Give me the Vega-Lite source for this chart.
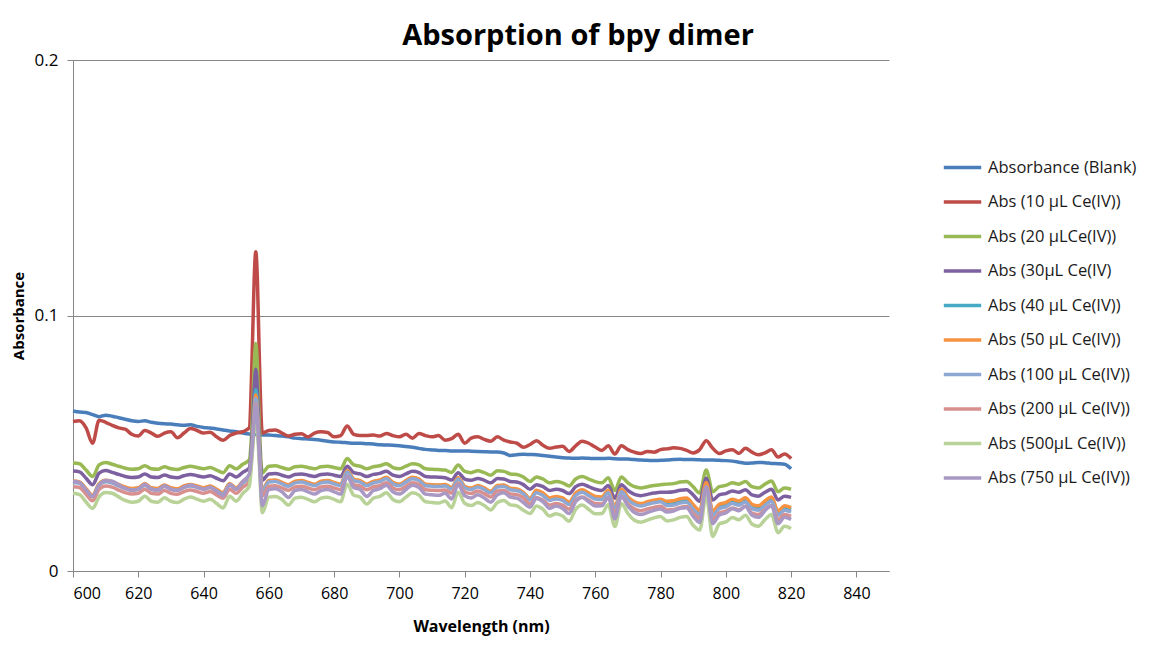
{
"$schema": "https://vega.github.io/schema/vega-lite/v6.json",
"width": 816, "height": 511,
"autosize": {"type": "none"},
"padding": {"left": 73, "top": 60, "right": 268, "bottom": 74},
"background": "white",
"title": {"text": "Absorption of bpy dimer", "font": "Open Sans", "fontSize": 29, "fontWeight": "bold", "color": "#000000", "anchor": "middle", "frame": "group", "dx": 97, "dy": 33, "offset": 10, "baseline": "alphabetic"},
"datasets": {"names": [
{"k": "b", "name": "Absorbance (Blank)"},
{"k": "r", "name": "Abs (10 µL Ce(IV))"},
{"k": "g", "name": "Abs (20 µLCe(IV))"},
{"k": "p", "name": "Abs (30µL Ce(IV)"},
{"k": "t", "name": "Abs (40 µL Ce(IV))"},
{"k": "o", "name": "Abs (50 µL Ce(IV))"},
{"k": "lb", "name": "Abs (100 µL Ce(IV))"},
{"k": "pk", "name": "Abs (200 µL Ce(IV))"},
{"k": "lg", "name": "Abs (500µL Ce(IV))"},
{"k": "lv", "name": "Abs (750 µL Ce(IV))"}
]},
"data": {"values": [
{"w":600,"b":0.0626,"r":0.0585,"g":0.0423,"p":0.0391,"t":0.0350,"o":0.0352,"lb":0.0346,"pk":0.0330,"lv":0.0351,"lg":0.0304},
{"w":602,"b":0.0622,"r":0.0588,"g":0.0420,"p":0.0388,"t":0.0347,"o":0.0349,"lb":0.0343,"pk":0.0327,"lv":0.0346,"lg":0.0299},
{"w":604,"b":0.0620,"r":0.0560,"g":0.0395,"p":0.0363,"t":0.0320,"o":0.0322,"lb":0.0316,"pk":0.0300,"lv":0.0317,"lg":0.0270},
{"w":606,"b":0.0612,"r":0.0500,"g":0.0370,"p":0.0338,"t":0.0295,"o":0.0297,"lb":0.0291,"pk":0.0275,"lv":0.0292,"lg":0.0245},
{"w":608,"b":0.0604,"r":0.0590,"g":0.0415,"p":0.0383,"t":0.0340,"o":0.0342,"lb":0.0336,"pk":0.0320,"lv":0.0337,"lg":0.0290},
{"w":610,"b":0.0610,"r":0.0582,"g":0.0425,"p":0.0393,"t":0.0353,"o":0.0355,"lb":0.0349,"pk":0.0333,"lv":0.0354,"lg":0.0307},
{"w":612,"b":0.0606,"r":0.0570,"g":0.0418,"p":0.0386,"t":0.0348,"o":0.0350,"lb":0.0344,"pk":0.0328,"lv":0.0351,"lg":0.0304},
{"w":614,"b":0.0600,"r":0.0560,"g":0.0410,"p":0.0378,"t":0.0337,"o":0.0339,"lb":0.0333,"pk":0.0317,"lv":0.0337,"lg":0.0290},
{"w":616,"b":0.0594,"r":0.0555,"g":0.0402,"p":0.0370,"t":0.0327,"o":0.0329,"lb":0.0323,"pk":0.0307,"lv":0.0323,"lg":0.0276},
{"w":618,"b":0.0588,"r":0.0535,"g":0.0398,"p":0.0366,"t":0.0321,"o":0.0323,"lb":0.0317,"pk":0.0301,"lv":0.0316,"lg":0.0269},
{"w":620,"b":0.0585,"r":0.0528,"g":0.0400,"p":0.0368,"t":0.0324,"o":0.0326,"lb":0.0320,"pk":0.0304,"lv":0.0320,"lg":0.0273},
{"w":622,"b":0.0588,"r":0.0550,"g":0.0412,"p":0.0380,"t":0.0340,"o":0.0342,"lb":0.0336,"pk":0.0320,"lv":0.0340,"lg":0.0293},
{"w":624,"b":0.0582,"r":0.0540,"g":0.0400,"p":0.0368,"t":0.0324,"o":0.0326,"lb":0.0320,"pk":0.0304,"lv":0.0320,"lg":0.0273},
{"w":626,"b":0.0578,"r":0.0527,"g":0.0398,"p":0.0366,"t":0.0321,"o":0.0323,"lb":0.0317,"pk":0.0301,"lv":0.0316,"lg":0.0269},
{"w":628,"b":0.0576,"r":0.0540,"g":0.0408,"p":0.0376,"t":0.0335,"o":0.0337,"lb":0.0331,"pk":0.0315,"lv":0.0334,"lg":0.0287},
{"w":630,"b":0.0575,"r":0.0545,"g":0.0400,"p":0.0368,"t":0.0324,"o":0.0326,"lb":0.0320,"pk":0.0304,"lv":0.0320,"lg":0.0273},
{"w":632,"b":0.0572,"r":0.0522,"g":0.0397,"p":0.0365,"t":0.0320,"o":0.0322,"lb":0.0316,"pk":0.0300,"lv":0.0315,"lg":0.0268},
{"w":634,"b":0.0570,"r":0.0540,"g":0.0405,"p":0.0373,"t":0.0331,"o":0.0333,"lb":0.0327,"pk":0.0311,"lv":0.0328,"lg":0.0281},
{"w":636,"b":0.0572,"r":0.0558,"g":0.0410,"p":0.0378,"t":0.0337,"o":0.0339,"lb":0.0333,"pk":0.0317,"lv":0.0337,"lg":0.0290},
{"w":638,"b":0.0566,"r":0.0550,"g":0.0405,"p":0.0373,"t":0.0331,"o":0.0333,"lb":0.0327,"pk":0.0311,"lv":0.0328,"lg":0.0281},
{"w":640,"b":0.0562,"r":0.0540,"g":0.0400,"p":0.0368,"t":0.0324,"o":0.0326,"lb":0.0320,"pk":0.0304,"lv":0.0320,"lg":0.0273},
{"w":642,"b":0.0560,"r":0.0543,"g":0.0405,"p":0.0373,"t":0.0331,"o":0.0333,"lb":0.0327,"pk":0.0311,"lv":0.0328,"lg":0.0281},
{"w":644,"b":0.0556,"r":0.0525,"g":0.0395,"p":0.0363,"t":0.0318,"o":0.0320,"lb":0.0314,"pk":0.0298,"lv":0.0311,"lg":0.0264},
{"w":646,"b":0.0552,"r":0.0512,"g":0.0385,"p":0.0353,"t":0.0305,"o":0.0307,"lb":0.0301,"pk":0.0285,"lv":0.0294,"lg":0.0247},
{"w":648,"b":0.0548,"r":0.0530,"g":0.0412,"p":0.0380,"t":0.0340,"o":0.0342,"lb":0.0336,"pk":0.0320,"lv":0.0340,"lg":0.0293},
{"w":650,"b":0.0545,"r":0.0540,"g":0.0400,"p":0.0368,"t":0.0324,"o":0.0326,"lb":0.0320,"pk":0.0304,"lv":0.0320,"lg":0.0273},
{"w":652,"b":0.0540,"r":0.0545,"g":0.0418,"p":0.0386,"t":0.0348,"o":0.0350,"lb":0.0344,"pk":0.0328,"lv":0.0351,"lg":0.0304},
{"w":654,"b":0.0536,"r":0.0560,"g":0.0435,"p":0.0403,"t":0.0370,"o":0.0372,"lb":0.0366,"pk":0.0350,"lv":0.0379,"lg":0.0332},
{"w":655,"b":0.0535,"r":0.0900,"g":0.0620,"p":0.0560,"t":0.0520,"o":0.0510,"lb":0.0505,"pk":0.0495,"lv":0.0500,"lg":0.0470},
{"w":655.5,"b":0.0534,"r":0.1140,"g":0.0800,"p":0.0710,"t":0.0640,"o":0.0625,"lb":0.0610,"pk":0.0595,"lv":0.0590,"lg":0.0555},
{"w":656,"b":0.0534,"r":0.1250,"g":0.0890,"p":0.0790,"t":0.0710,"o":0.0690,"lb":0.0675,"pk":0.0655,"lv":0.0650,"lg":0.0610},
{"w":656.5,"b":0.0533,"r":0.1140,"g":0.0800,"p":0.0710,"t":0.0640,"o":0.0625,"lb":0.0610,"pk":0.0595,"lv":0.0590,"lg":0.0555},
{"w":657,"b":0.0533,"r":0.0880,"g":0.0600,"p":0.0540,"t":0.0500,"o":0.0490,"lb":0.0485,"pk":0.0470,"lv":0.0470,"lg":0.0440},
{"w":658,"b":0.0532,"r":0.0540,"g":0.0385,"p":0.0355,"t":0.0315,"o":0.0317,"lb":0.0311,"pk":0.0295,"lv":0.0255,"lg":0.0228},
{"w":660,"b":0.0532,"r":0.0550,"g":0.0410,"p":0.0380,"t":0.0352,"o":0.0354,"lb":0.0348,"pk":0.0332,"lv":0.0319,"lg":0.0289},
{"w":662,"b":0.0530,"r":0.0552,"g":0.0412,"p":0.0382,"t":0.0354,"o":0.0356,"lb":0.0350,"pk":0.0334,"lv":0.0322,"lg":0.0292},
{"w":664,"b":0.0528,"r":0.0540,"g":0.0405,"p":0.0375,"t":0.0345,"o":0.0347,"lb":0.0341,"pk":0.0325,"lv":0.0310,"lg":0.0280},
{"w":666,"b":0.0525,"r":0.0528,"g":0.0398,"p":0.0368,"t":0.0336,"o":0.0338,"lb":0.0332,"pk":0.0316,"lv":0.0288,"lg":0.0258},
{"w":668,"b":0.0520,"r":0.0535,"g":0.0408,"p":0.0378,"t":0.0349,"o":0.0351,"lb":0.0345,"pk":0.0329,"lv":0.0315,"lg":0.0285},
{"w":670,"b":0.0518,"r":0.0537,"g":0.0410,"p":0.0380,"t":0.0352,"o":0.0354,"lb":0.0348,"pk":0.0332,"lv":0.0319,"lg":0.0289},
{"w":672,"b":0.0517,"r":0.0525,"g":0.0405,"p":0.0375,"t":0.0345,"o":0.0347,"lb":0.0341,"pk":0.0325,"lv":0.0310,"lg":0.0280},
{"w":674,"b":0.0515,"r":0.0540,"g":0.0400,"p":0.0370,"t":0.0338,"o":0.0340,"lb":0.0334,"pk":0.0318,"lv":0.0301,"lg":0.0271},
{"w":676,"b":0.0512,"r":0.0545,"g":0.0408,"p":0.0378,"t":0.0349,"o":0.0351,"lb":0.0345,"pk":0.0329,"lv":0.0315,"lg":0.0285},
{"w":678,"b":0.0508,"r":0.0542,"g":0.0410,"p":0.0380,"t":0.0352,"o":0.0354,"lb":0.0348,"pk":0.0332,"lv":0.0319,"lg":0.0289},
{"w":680,"b":0.0505,"r":0.0525,"g":0.0405,"p":0.0375,"t":0.0345,"o":0.0347,"lb":0.0341,"pk":0.0325,"lv":0.0310,"lg":0.0280},
{"w":682,"b":0.0504,"r":0.0530,"g":0.0400,"p":0.0370,"t":0.0338,"o":0.0340,"lb":0.0334,"pk":0.0318,"lv":0.0301,"lg":0.0271},
{"w":684,"b":0.0502,"r":0.0568,"g":0.0440,"p":0.0410,"t":0.0391,"o":0.0393,"lb":0.0387,"pk":0.0371,"lv":0.0370,"lg":0.0340},
{"w":686,"b":0.0500,"r":0.0535,"g":0.0415,"p":0.0385,"t":0.0358,"o":0.0360,"lb":0.0354,"pk":0.0338,"lv":0.0327,"lg":0.0297},
{"w":688,"b":0.0500,"r":0.0530,"g":0.0410,"p":0.0380,"t":0.0352,"o":0.0354,"lb":0.0348,"pk":0.0332,"lv":0.0319,"lg":0.0289},
{"w":690,"b":0.0498,"r":0.0530,"g":0.0400,"p":0.0370,"t":0.0338,"o":0.0340,"lb":0.0334,"pk":0.0318,"lv":0.0292,"lg":0.0262},
{"w":692,"b":0.0497,"r":0.0532,"g":0.0408,"p":0.0378,"t":0.0349,"o":0.0351,"lb":0.0345,"pk":0.0329,"lv":0.0315,"lg":0.0285},
{"w":694,"b":0.0494,"r":0.0528,"g":0.0412,"p":0.0382,"t":0.0354,"o":0.0356,"lb":0.0350,"pk":0.0334,"lv":0.0322,"lg":0.0292},
{"w":696,"b":0.0493,"r":0.0538,"g":0.0420,"p":0.0390,"t":0.0365,"o":0.0367,"lb":0.0361,"pk":0.0345,"lv":0.0336,"lg":0.0306},
{"w":698,"b":0.0492,"r":0.0530,"g":0.0405,"p":0.0375,"t":0.0345,"o":0.0347,"lb":0.0341,"pk":0.0325,"lv":0.0310,"lg":0.0280},
{"w":700,"b":0.0490,"r":0.0525,"g":0.0400,"p":0.0370,"t":0.0338,"o":0.0340,"lb":0.0334,"pk":0.0318,"lv":0.0301,"lg":0.0271},
{"w":702,"b":0.0487,"r":0.0535,"g":0.0410,"p":0.0380,"t":0.0352,"o":0.0354,"lb":0.0348,"pk":0.0332,"lv":0.0319,"lg":0.0289},
{"w":704,"b":0.0484,"r":0.0520,"g":0.0420,"p":0.0390,"t":0.0365,"o":0.0367,"lb":0.0361,"pk":0.0345,"lv":0.0336,"lg":0.0306},
{"w":706,"b":0.0480,"r":0.0538,"g":0.0415,"p":0.0385,"t":0.0358,"o":0.0360,"lb":0.0354,"pk":0.0338,"lv":0.0327,"lg":0.0297},
{"w":708,"b":0.0476,"r":0.0530,"g":0.0400,"p":0.0370,"t":0.0338,"o":0.0340,"lb":0.0334,"pk":0.0318,"lv":0.0301,"lg":0.0271},
{"w":710,"b":0.0474,"r":0.0525,"g":0.0398,"p":0.0368,"t":0.0336,"o":0.0338,"lb":0.0332,"pk":0.0316,"lv":0.0298,"lg":0.0268},
{"w":712,"b":0.0472,"r":0.0530,"g":0.0397,"p":0.0367,"t":0.0335,"o":0.0337,"lb":0.0331,"pk":0.0315,"lv":0.0296,"lg":0.0266},
{"w":714,"b":0.0472,"r":0.0512,"g":0.0395,"p":0.0365,"t":0.0337,"o":0.0339,"lb":0.0333,"pk":0.0317,"lv":0.0304,"lg":0.0274},
{"w":716,"b":0.0470,"r":0.0518,"g":0.0386,"p":0.0356,"t":0.0325,"o":0.0327,"lb":0.0321,"pk":0.0305,"lv":0.0282,"lg":0.0248},
{"w":718,"b":0.0470,"r":0.0535,"g":0.0415,"p":0.0385,"t":0.0363,"o":0.0365,"lb":0.0359,"pk":0.0343,"lv":0.0338,"lg":0.0308},
{"w":720,"b":0.0470,"r":0.0500,"g":0.0390,"p":0.0360,"t":0.0330,"o":0.0332,"lb":0.0326,"pk":0.0310,"lv":0.0295,"lg":0.0265},
{"w":722,"b":0.0469,"r":0.0520,"g":0.0385,"p":0.0355,"t":0.0323,"o":0.0325,"lb":0.0319,"pk":0.0303,"lv":0.0286,"lg":0.0256},
{"w":724,"b":0.0468,"r":0.0525,"g":0.0392,"p":0.0362,"t":0.0333,"o":0.0335,"lb":0.0329,"pk":0.0313,"lv":0.0298,"lg":0.0268},
{"w":726,"b":0.0467,"r":0.0515,"g":0.0385,"p":0.0355,"t":0.0323,"o":0.0325,"lb":0.0319,"pk":0.0303,"lv":0.0286,"lg":0.0256},
{"w":728,"b":0.0466,"r":0.0508,"g":0.0375,"p":0.0345,"t":0.0310,"o":0.0312,"lb":0.0306,"pk":0.0290,"lv":0.0269,"lg":0.0239},
{"w":730,"b":0.0466,"r":0.0525,"g":0.0392,"p":0.0362,"t":0.0333,"o":0.0335,"lb":0.0329,"pk":0.0313,"lv":0.0298,"lg":0.0268},
{"w":732,"b":0.0462,"r":0.0512,"g":0.0390,"p":0.0360,"t":0.0335,"o":0.0337,"lb":0.0331,"pk":0.0315,"lv":0.0306,"lg":0.0276},
{"w":734,"b":0.0452,"r":0.0505,"g":0.0380,"p":0.0350,"t":0.0322,"o":0.0324,"lb":0.0318,"pk":0.0302,"lv":0.0289,"lg":0.0259},
{"w":736,"b":0.0455,"r":0.0500,"g":0.0378,"p":0.0348,"t":0.0319,"o":0.0321,"lb":0.0315,"pk":0.0299,"lv":0.0285,"lg":0.0255},
{"w":738,"b":0.0457,"r":0.0484,"g":0.0368,"p":0.0338,"t":0.0306,"o":0.0308,"lb":0.0302,"pk":0.0286,"lv":0.0268,"lg":0.0238},
{"w":740,"b":0.0456,"r":0.0495,"g":0.0350,"p":0.0320,"t":0.0282,"o":0.0284,"lb":0.0278,"pk":0.0262,"lv":0.0250,"lg":0.0225},
{"w":742,"b":0.0455,"r":0.0510,"g":0.0368,"p":0.0338,"t":0.0311,"o":0.0316,"lb":0.0306,"pk":0.0288,"lv":0.0284,"lg":0.0254},
{"w":744,"b":0.0452,"r":0.0492,"g":0.0360,"p":0.0330,"t":0.0300,"o":0.0305,"lb":0.0295,"pk":0.0277,"lv":0.0271,"lg":0.0241},
{"w":746,"b":0.0449,"r":0.0480,"g":0.0345,"p":0.0315,"t":0.0281,"o":0.0286,"lb":0.0276,"pk":0.0258,"lv":0.0245,"lg":0.0215},
{"w":748,"b":0.0446,"r":0.0485,"g":0.0350,"p":0.0320,"t":0.0287,"o":0.0292,"lb":0.0282,"pk":0.0264,"lv":0.0254,"lg":0.0224},
{"w":750,"b":0.0443,"r":0.0488,"g":0.0345,"p":0.0315,"t":0.0281,"o":0.0286,"lb":0.0276,"pk":0.0258,"lv":0.0245,"lg":0.0215},
{"w":752,"b":0.0442,"r":0.0468,"g":0.0333,"p":0.0303,"t":0.0265,"o":0.0270,"lb":0.0260,"pk":0.0242,"lv":0.0225,"lg":0.0195},
{"w":754,"b":0.0441,"r":0.0490,"g":0.0360,"p":0.0330,"t":0.0300,"o":0.0305,"lb":0.0295,"pk":0.0277,"lv":0.0271,"lg":0.0241},
{"w":756,"b":0.0442,"r":0.0508,"g":0.0370,"p":0.0340,"t":0.0313,"o":0.0318,"lb":0.0308,"pk":0.0290,"lv":0.0288,"lg":0.0258},
{"w":758,"b":0.0441,"r":0.0500,"g":0.0360,"p":0.0330,"t":0.0300,"o":0.0305,"lb":0.0295,"pk":0.0277,"lv":0.0271,"lg":0.0241},
{"w":760,"b":0.0440,"r":0.0485,"g":0.0350,"p":0.0320,"t":0.0287,"o":0.0292,"lb":0.0282,"pk":0.0264,"lv":0.0254,"lg":0.0224},
{"w":762,"b":0.0440,"r":0.0472,"g":0.0345,"p":0.0315,"t":0.0285,"o":0.0290,"lb":0.0280,"pk":0.0262,"lv":0.0255,"lg":0.0225},
{"w":764,"b":0.0441,"r":0.0490,"g":0.0365,"p":0.0335,"t":0.0311,"o":0.0316,"lb":0.0306,"pk":0.0288,"lv":0.0289,"lg":0.0259},
{"w":766,"b":0.0439,"r":0.0458,"g":0.0315,"p":0.0285,"t":0.0246,"o":0.0251,"lb":0.0241,"pk":0.0223,"lv":0.0204,"lg":0.0174},
{"w":768,"b":0.0438,"r":0.0490,"g":0.0368,"p":0.0338,"t":0.0315,"o":0.0320,"lb":0.0310,"pk":0.0292,"lv":0.0294,"lg":0.0264},
{"w":770,"b":0.0438,"r":0.0475,"g":0.0345,"p":0.0315,"t":0.0285,"o":0.0290,"lb":0.0280,"pk":0.0262,"lv":0.0255,"lg":0.0225},
{"w":772,"b":0.0436,"r":0.0465,"g":0.0330,"p":0.0300,"t":0.0266,"o":0.0271,"lb":0.0261,"pk":0.0243,"lv":0.0229,"lg":0.0199},
{"w":774,"b":0.0434,"r":0.0460,"g":0.0325,"p":0.0295,"t":0.0259,"o":0.0264,"lb":0.0254,"pk":0.0236,"lv":0.0221,"lg":0.0191},
{"w":776,"b":0.0433,"r":0.0468,"g":0.0330,"p":0.0300,"t":0.0266,"o":0.0271,"lb":0.0261,"pk":0.0243,"lv":0.0229,"lg":0.0199},
{"w":778,"b":0.0432,"r":0.0465,"g":0.0335,"p":0.0305,"t":0.0272,"o":0.0277,"lb":0.0267,"pk":0.0249,"lv":0.0238,"lg":0.0208},
{"w":780,"b":0.0433,"r":0.0475,"g":0.0338,"p":0.0308,"t":0.0276,"o":0.0281,"lb":0.0271,"pk":0.0253,"lv":0.0243,"lg":0.0213},
{"w":782,"b":0.0434,"r":0.0478,"g":0.0340,"p":0.0308,"t":0.0266,"o":0.0273,"lb":0.0256,"pk":0.0239,"lv":0.0231,"lg":0.0196},
{"w":784,"b":0.0436,"r":0.0482,"g":0.0342,"p":0.0310,"t":0.0268,"o":0.0275,"lb":0.0258,"pk":0.0241,"lv":0.0235,"lg":0.0200},
{"w":786,"b":0.0437,"r":0.0480,"g":0.0348,"p":0.0316,"t":0.0276,"o":0.0283,"lb":0.0266,"pk":0.0249,"lv":0.0245,"lg":0.0210},
{"w":788,"b":0.0436,"r":0.0472,"g":0.0350,"p":0.0318,"t":0.0279,"o":0.0286,"lb":0.0269,"pk":0.0252,"lv":0.0248,"lg":0.0213},
{"w":790,"b":0.0436,"r":0.0462,"g":0.0330,"p":0.0298,"t":0.0253,"o":0.0260,"lb":0.0243,"pk":0.0226,"lv":0.0214,"lg":0.0179},
{"w":792,"b":0.0435,"r":0.0475,"g":0.0305,"p":0.0273,"t":0.0230,"o":0.0237,"lb":0.0220,"pk":0.0205,"lv":0.0190,"lg":0.0160},
{"w":794,"b":0.0434,"r":0.0510,"g":0.0395,"p":0.0363,"t":0.0339,"o":0.0346,"lb":0.0329,"pk":0.0312,"lv":0.0329,"lg":0.0294},
{"w":796,"b":0.0434,"r":0.0480,"g":0.0310,"p":0.0278,"t":0.0228,"o":0.0235,"lb":0.0218,"pk":0.0201,"lv":0.0185,"lg":0.0135},
{"w":798,"b":0.0433,"r":0.0460,"g":0.0330,"p":0.0298,"t":0.0254,"o":0.0261,"lb":0.0244,"pk":0.0227,"lv":0.0219,"lg":0.0184},
{"w":800,"b":0.0432,"r":0.0470,"g":0.0335,"p":0.0303,"t":0.0261,"o":0.0268,"lb":0.0251,"pk":0.0234,"lv":0.0227,"lg":0.0192},
{"w":802,"b":0.0430,"r":0.0475,"g":0.0345,"p":0.0313,"t":0.0274,"o":0.0281,"lb":0.0264,"pk":0.0247,"lv":0.0244,"lg":0.0209},
{"w":804,"b":0.0426,"r":0.0460,"g":0.0340,"p":0.0308,"t":0.0267,"o":0.0274,"lb":0.0257,"pk":0.0240,"lv":0.0236,"lg":0.0201},
{"w":806,"b":0.0422,"r":0.0480,"g":0.0350,"p":0.0318,"t":0.0280,"o":0.0287,"lb":0.0270,"pk":0.0253,"lv":0.0253,"lg":0.0218},
{"w":808,"b":0.0423,"r":0.0465,"g":0.0330,"p":0.0298,"t":0.0254,"o":0.0261,"lb":0.0244,"pk":0.0227,"lv":0.0219,"lg":0.0184},
{"w":810,"b":0.0425,"r":0.0455,"g":0.0325,"p":0.0293,"t":0.0248,"o":0.0255,"lb":0.0238,"pk":0.0221,"lv":0.0210,"lg":0.0175},
{"w":812,"b":0.0424,"r":0.0462,"g":0.0340,"p":0.0308,"t":0.0267,"o":0.0274,"lb":0.0257,"pk":0.0240,"lv":0.0236,"lg":0.0201},
{"w":814,"b":0.0421,"r":0.0475,"g":0.0352,"p":0.0320,"t":0.0283,"o":0.0290,"lb":0.0273,"pk":0.0256,"lv":0.0256,"lg":0.0221},
{"w":816,"b":0.0420,"r":0.0446,"g":0.0310,"p":0.0278,"t":0.0228,"o":0.0235,"lb":0.0218,"pk":0.0201,"lv":0.0185,"lg":0.0150},
{"w":818,"b":0.0418,"r":0.0458,"g":0.0325,"p":0.0293,"t":0.0248,"o":0.0255,"lb":0.0238,"pk":0.0221,"lv":0.0210,"lg":0.0175},
{"w":820,"b":0.0400,"r":0.0440,"g":0.0320,"p":0.0288,"t":0.0241,"o":0.0248,"lb":0.0231,"pk":0.0214,"lv":0.0202,"lg":0.0167}
]},
"transform": [
{"fold": ["b","r","g","p","t","o","lb","pk","lg","lv"], "as": ["k","v"]},
{"lookup": "k", "from": {"data": {"name": "names"}, "key": "k", "fields": ["name"]}}
],
"mark": {"type": "line", "strokeWidth": 3.5, "interpolate": "monotone"},
"encoding": {
"x": {"field": "w", "type": "quantitative",
 "scale": {"domain": [600, 850], "nice": false, "zero": false},
 "axis": {"title": "Wavelength (nm)", "values": [600,620,640,660,680,700,720,740,760,780,800,820,840], "grid": false,
  "domainColor": "#868686", "tickColor": "#868686", "tickSize": 6, "labelFont": "Open Sans", "labelFontSize": 16, "labelColor": "#000000", "labelPadding": 8,
  "titleFont": "Open Sans", "titleFontSize": 16, "titleFontWeight": "bold", "titleColor": "#000000", "titlePadding": 17}},
"y": {"field": "v", "type": "quantitative",
 "scale": {"domain": [0, 0.2], "nice": false},
 "axis": {"title": "Absorbance", "values": [0, 0.1, 0.2], "format": ".1~f", "grid": true, "gridColor": "#868686", "gridOpacity": 1,
  "domainColor": "#868686", "tickColor": "#868686", "tickSize": 6, "labelFont": "Open Sans", "labelFontSize": 17, "labelColor": "#000000", "labelPadding": 9,
  "titleFont": "Open Sans", "titleFontSize": 15, "titleFontWeight": "bold", "titleColor": "#000000", "titlePadding": 8}},
"color": {"field": "name", "type": "nominal",
 "scale": {"domain": ["Absorbance (Blank)","Abs (10 µL Ce(IV))","Abs (20 µLCe(IV))","Abs (30µL Ce(IV)","Abs (40 µL Ce(IV))","Abs (50 µL Ce(IV))","Abs (100 µL Ce(IV))","Abs (200 µL Ce(IV))","Abs (500µL Ce(IV))","Abs (750 µL Ce(IV))"],
  "range": ["#4A7EBB","#BE4B48","#98B954","#7D60A0","#46AAC5","#F69240","#8EA8D4","#D7908E","#B9D297","#A898C3"]},
 "legend": {"orient": "none", "legendX": 869, "legendY": 87, "title": null, "symbolType": "stroke", "symbolStrokeWidth": 3.5, "symbolSize": 1400,
  "labelFont": "Open Sans", "labelFontSize": 16.5, "labelColor": "#1a1a1a", "labelOffset": 5, "rowPadding": 5.5, "padding": 0, "labelLimit": 300}}
},
"config": {"view": {"stroke": null}, "font": "Open Sans"}
}
